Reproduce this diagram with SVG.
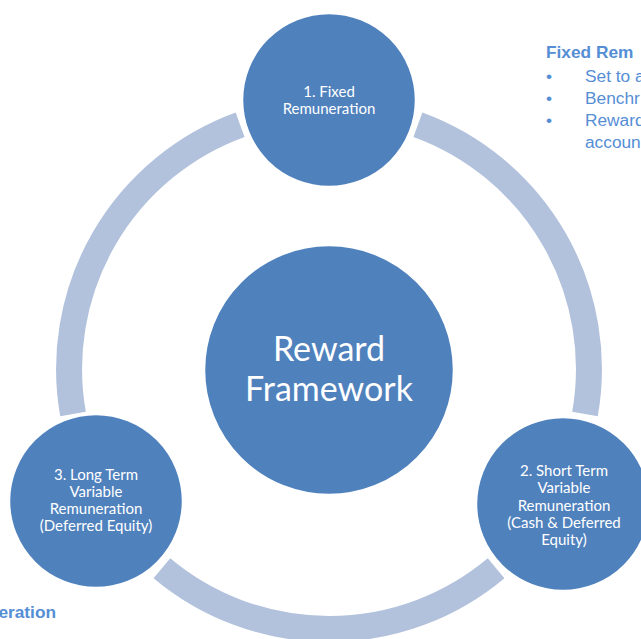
<svg xmlns="http://www.w3.org/2000/svg" width="641" height="639" viewBox="0 0 641 639">
<style>
.arc{fill:none;stroke:#B2C2DD;stroke-width:26;stroke-linecap:butt}
.node{fill:#4F81BD;stroke:#FFFFFF;stroke-width:2.5}
.lbl{font-family:Lato,"Open Sans",sans-serif;font-size:15px;fill:#FFFFFF;text-anchor:middle}
.big{font-family:Lato,"Open Sans",sans-serif;font-size:34px;fill:#FFFFFF;text-anchor:middle}
.side{font-family:"Liberation Sans",Arial,sans-serif;font-size:17.3px;fill:#558ED5}
.bold{font-weight:bold}
</style>
<rect width="641" height="639" fill="#FFFFFF"/>
<g id="connectors">
<path class="arc" d="M417.9 124.7 A260 260 0 0 1 585.0 414.1"/>
<path class="arc" d="M496.1 568.2 A260 260 0 0 1 161.9 568.2"/>
<path class="arc" d="M73.0 414.1 A260 260 0 0 1 240.1 124.7"/>
</g>
<g id="center">
<circle class="node" cx="329" cy="370" r="125"/>
<text class="big" x="329" y="361">Reward</text>
<text class="big" x="329" y="401">Framework</text>
</g>
<g id="fixed">
<circle class="node" cx="329" cy="100" r="87"/>
<text class="lbl" x="329" y="97">1. Fixed</text>
<text class="lbl" x="329" y="114">Remuneration</text>
</g>
<g id="short-term">
<circle class="node" cx="563" cy="504" r="87"/>
<text class="lbl" x="564" y="476">2. Short Term</text>
<text class="lbl" x="564" y="493">Variable</text>
<text class="lbl" x="564" y="511">Remuneration</text>
<text class="lbl" x="564" y="528">(Cash &amp; Deferred</text>
<text class="lbl" x="564" y="545">Equity)</text>
</g>
<g id="long-term">
<circle class="node" cx="96" cy="501" r="87"/>
<text class="lbl" x="96" y="480">3. Long Term</text>
<text class="lbl" x="96" y="497">Variable</text>
<text class="lbl" x="96" y="514">Remuneration</text>
<text class="lbl" x="96" y="531">(Deferred Equity)</text>
</g>
<g id="fixed-notes">
<text class="side bold" x="546" y="58">Fixed Rem</text>
<text class="side" x="546" y="82">•</text>
<text class="side" x="585" y="82">Set to a</text>
<text class="side" x="546" y="104">•</text>
<text class="side" x="585" y="104">Benchr</text>
<text class="side" x="546" y="126">•</text>
<text class="side" x="585" y="126">Reward</text>
<text class="side" x="585" y="148">accoun</text>
</g>
<g id="variable-notes">
<text class="side bold" x="56" y="618" text-anchor="end">eration</text>
</g>
</svg>
